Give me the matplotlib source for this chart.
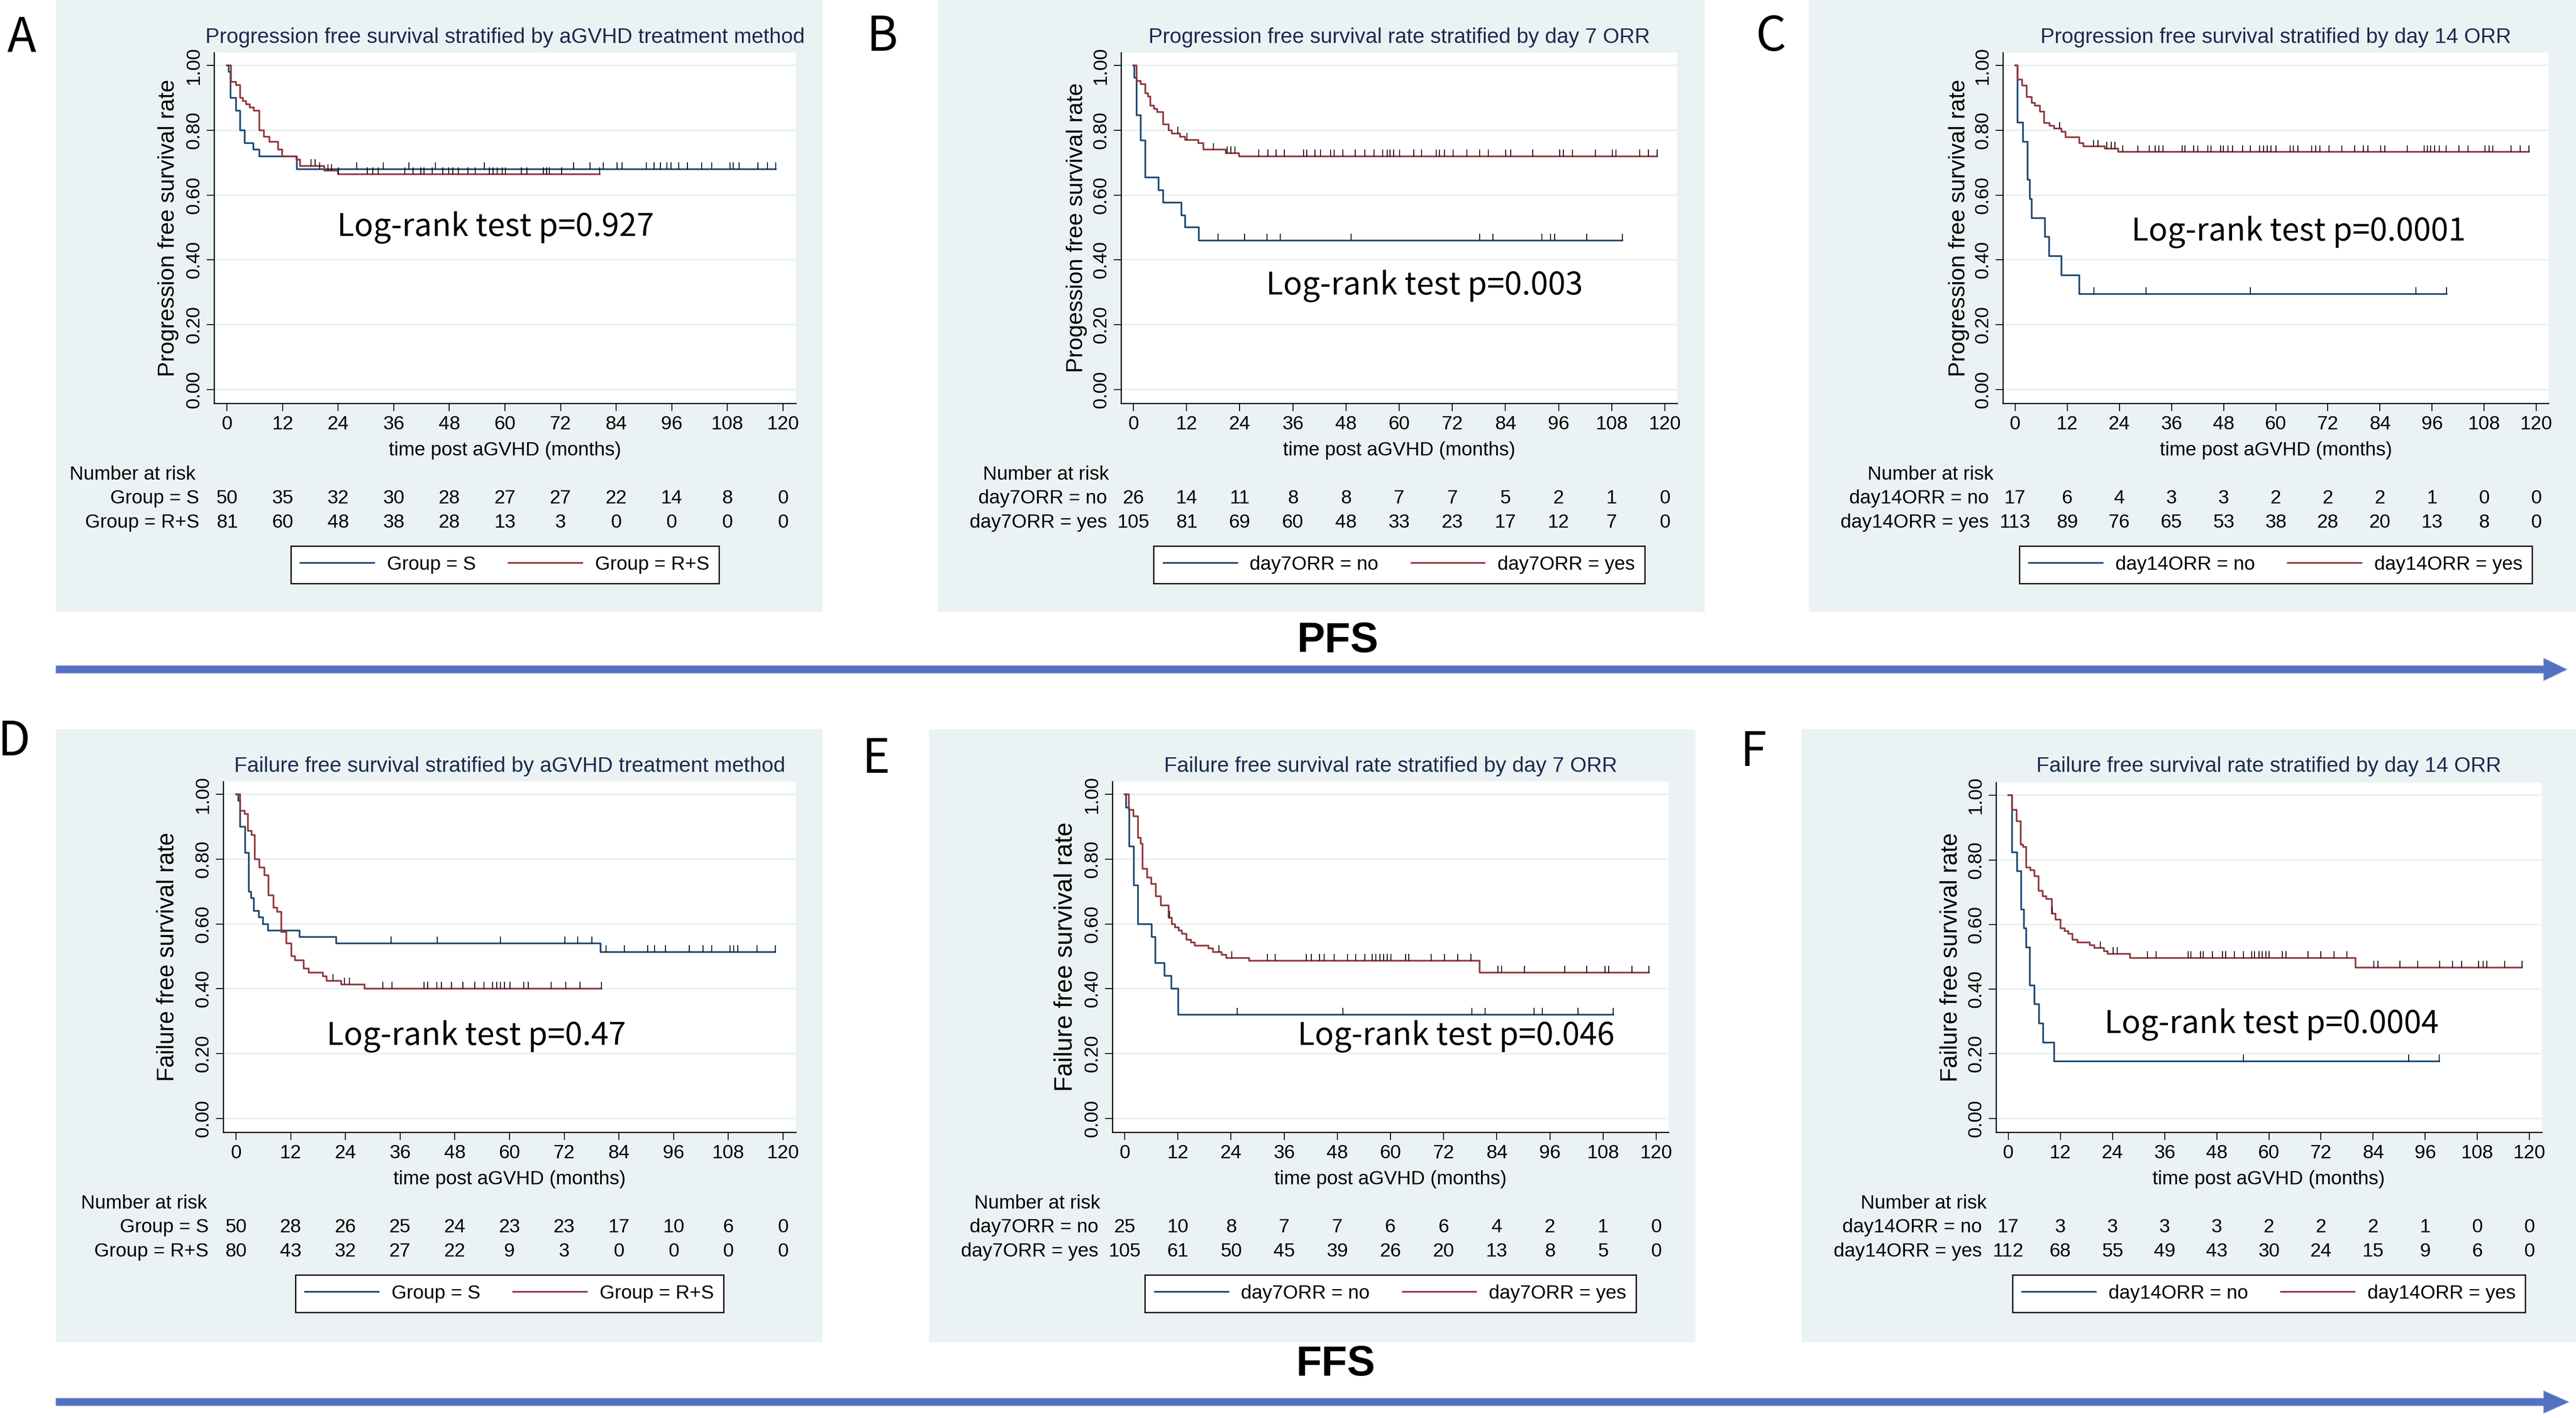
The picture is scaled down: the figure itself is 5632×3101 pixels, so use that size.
import numpy as np
import matplotlib
matplotlib.use('Agg')
import matplotlib.pyplot as plt
from matplotlib.patches import Rectangle, Polygon
from matplotlib import transforms

W, H = 5632, 3101
BG = '#eaf2f3'
GRID = '#eaf2f3'
NAVY = '#1a476f'
MAROON = '#90353b'
TITLE_C = '#1c2a50'

plt.rcParams['font.family'] = ['Liberation Sans', 'DejaVu Sans']

months = [0, 12, 24, 36, 48, 60, 72, 84, 96, 108, 120]
yticks = [0.0, 0.2, 0.4, 0.6, 0.8, 1.0]

# ---- A: PFS by treatment method
a_s_t = [0, 0.35, 0.8, 1.9, 2.8, 3.8, 5.7, 7.0, 15.1]
a_s_v = [1.00, 0.98, 0.90, 0.86, 0.80, 0.76, 0.74, 0.72, 0.68]
a_s_end = 118.5
a_s_cens = [20.0, 28.0, 33.7, 39.3, 45.0, 55.6, 74.8, 78.4, 81.2, 84.2, 85.3, 90.5, 92.2,
            93.6, 95.0, 95.8, 97.5, 99.4, 102.5, 104.6, 108.6, 109.3, 110.6, 114.6, 116.7, 118.5]
a_r_t = [0, 0.9, 1.9, 2.8, 3.4, 4.1, 4.9, 5.8, 7.0, 8.0, 9.1, 11.0, 11.9, 15.0, 15.8, 21.0, 24.0]
a_r_v = [1.00, 0.95, 0.94, 0.90, 0.89, 0.88, 0.87, 0.86, 0.80, 0.78, 0.765, 0.74, 0.72,
         0.71, 0.69, 0.675, 0.665]
a_r_end = 80.4
a_r_cens = [18.1, 19.0, 21.8, 22.6, 24.1, 30.3, 31.5, 32.6, 38.4, 40.2, 41.8, 42.5, 44.3,
            46.6, 47.9, 48.7, 49.9, 52.0, 53.6, 56.6, 57.4, 58.3, 59.4, 60.1, 63.6, 64.7,
            68.3, 69.0, 69.6, 72.2, 80.4]
a_risk_s = [50, 35, 32, 30, 28, 27, 27, 22, 14, 8, 0]
a_risk_r = [81, 60, 48, 38, 28, 13, 3, 0, 0, 0, 0]

# ---- B: PFS by day 7 ORR
b_n_t = [0, 0.2, 0.7, 1.6, 2.7, 5.7, 6.7, 10.8, 11.7, 14.8]
b_n_v = [1.00, 0.962, 0.846, 0.769, 0.654, 0.615, 0.577, 0.538, 0.50, 0.46]
b_n_end = 110.4
b_n_cens = [19.1, 25.1, 30.1, 33.1, 49.2, 78.2, 81.2, 92.2, 94.2, 95.1, 102.3, 110.4]
b_y_t = [0, 0.7, 1.6, 2.7, 3.3, 3.8, 4.6, 5.4, 6.7, 7.9, 8.7, 10.5, 11.7, 14.7, 15.8, 20.9, 23.9]
b_y_v = [1.00, 0.952, 0.943, 0.914, 0.905, 0.876, 0.867, 0.857, 0.819, 0.80, 0.79, 0.78,
         0.77, 0.76, 0.74, 0.73, 0.72]
b_y_end = 118.3
b_y_cens = [10.0, 12.1, 18.1, 21.2, 22.0, 22.9, 28.3, 30.4, 32.2, 34.1, 38.4, 39.1, 41.0,
            42.2, 44.5, 45.3, 47.3, 50.1, 52.3, 54.3, 56.3, 57.3, 57.9, 58.8, 60.1, 63.3,
            65.1, 68.4, 69.1, 70.2, 72.2, 75.3, 78.2, 80.1, 84.1, 85.2, 90.2, 96.3, 97.1,
            99.1, 104.3, 108.1, 109.0, 114.3, 116.3, 118.3]
b_risk_n = [26, 14, 11, 8, 8, 7, 7, 5, 2, 1, 0]
b_risk_y = [105, 81, 69, 60, 48, 33, 23, 17, 12, 7, 0]

# ---- C: PFS by day 14 ORR
c_n_t = [0, 0.6, 1.8, 2.9, 3.4, 3.8, 6.9, 7.8, 10.7, 14.8]
c_n_v = [1.00, 0.824, 0.765, 0.647, 0.588, 0.529, 0.471, 0.412, 0.353, 0.294]
c_n_end = 99.3
c_n_cens = [18.1, 30.2, 54.2, 92.3, 99.3]
c_y_t = [0, 0.6, 1.6, 2.7, 3.8, 4.6, 5.7, 6.7, 7.9, 9.0, 10.7, 11.6, 14.8, 15.7, 20.7, 23.7]
c_y_v = [1.00, 0.956, 0.938, 0.903, 0.885, 0.876, 0.858, 0.823, 0.814, 0.805, 0.796,
         0.779, 0.76, 0.75, 0.743, 0.733]
c_y_end = 118.3
c_y_cens = [10.3, 18.0, 19.1, 21.1, 22.1, 23.0, 24.8, 28.3, 30.9, 32.3, 33.1, 34.0, 38.5,
            39.1, 41.1, 42.0, 44.4, 45.1, 47.3, 47.9, 49.0, 50.1, 52.4, 54.2, 56.3, 57.2,
            58.0, 58.9, 60.1, 63.3, 64.1, 65.1, 68.3, 69.2, 70.2, 72.3, 75.2, 78.2, 80.2,
            81.2, 84.2, 85.1, 90.3, 94.2, 94.9, 95.6, 96.6, 97.6, 99.2, 102.2, 104.3, 108.2,
            109.1, 110.0, 114.2, 116.3, 118.3]
c_risk_n = [17, 6, 4, 3, 3, 2, 2, 2, 1, 0, 0]
c_risk_y = [113, 89, 76, 65, 53, 38, 28, 20, 13, 8, 0]

# ---- D: FFS by treatment method
d_s_t = [0, 0.5, 0.9, 2.0, 2.8, 3.3, 3.9, 5.0, 5.9, 7.0, 14.0, 22.0, 80.0]
d_s_v = [1.00, 0.98, 0.90, 0.82, 0.70, 0.68, 0.64, 0.62, 0.60, 0.58, 0.56, 0.54, 0.513]
d_s_end = 118.3
d_s_cens = [34.0, 44.1, 58.0, 72.1, 74.9, 78.1, 81.2, 85.2, 90.3, 91.8, 94.2, 99.4, 102.4,
            104.3, 108.4, 109.2, 110.1, 114.3, 118.3]
d_r_t = [0, 0.9, 1.9, 2.6, 3.4, 4.1, 5.1, 6.2, 7.1, 8.2, 9.0, 9.9, 11.0, 12.1, 13.0, 14.9,
         16.0, 19.1, 19.9, 23.1, 28.2]
d_r_v = [1.00, 0.95, 0.94, 0.888, 0.875, 0.80, 0.775, 0.75, 0.688, 0.65, 0.638, 0.575,
         0.54, 0.50, 0.488, 0.463, 0.45, 0.438, 0.425, 0.413, 0.40]
d_r_end = 80.2
d_r_cens = [21.3, 23.8, 24.9, 32.2, 34.2, 41.2, 42.0, 44.0, 45.1, 47.3, 49.8, 52.4, 54.4,
            56.3, 57.2, 58.0, 58.9, 60.1, 63.1, 64.1, 69.1, 72.3, 75.4, 80.2]
d_risk_s = [50, 28, 26, 25, 24, 23, 23, 17, 10, 6, 0]
d_risk_r = [80, 43, 32, 27, 22, 9, 3, 0, 0, 0, 0]

# ---- E: FFS by day 7 ORR
e_n_t = [0, 0.35, 1.0, 2.1, 3.0, 6.1, 6.9, 9.0, 10.5, 12.1]
e_n_v = [1.00, 0.96, 0.84, 0.72, 0.60, 0.56, 0.48, 0.44, 0.40, 0.32]
e_n_end = 110.3
e_n_cens = [25.4, 49.3, 78.4, 81.4, 92.4, 94.3, 102.4, 110.3]
e_y_t = [0, 0.9, 2.0, 3.0, 3.6, 4.0, 5.1, 6.0, 7.0, 8.1, 9.9, 10.6, 11.4, 12.2, 12.9, 13.9,
         15.0, 15.8, 18.9, 19.9, 21.9, 22.9, 28.1, 80.1]
e_y_v = [1.00, 0.952, 0.933, 0.867, 0.848, 0.771, 0.743, 0.724, 0.686, 0.657, 0.619, 0.60,
         0.59, 0.58, 0.57, 0.552, 0.543, 0.533, 0.524, 0.514, 0.505, 0.495, 0.486, 0.45]
e_y_end = 118.4
e_y_cens = [10.1, 21.3, 24.2, 32.2, 34.0, 41.0, 42.1, 44.0, 45.0, 47.3, 50.3, 52.1, 54.2,
            55.9, 56.7, 57.6, 58.4, 59.3, 60.1, 63.4, 64.1, 69.2, 72.2, 75.2, 78.2, 84.3,
            85.1, 90.3, 99.4, 104.3, 108.4, 109.3, 114.5, 118.4]
e_risk_n = [25, 10, 8, 7, 7, 6, 6, 4, 2, 1, 0]
e_risk_y = [105, 61, 50, 45, 39, 26, 20, 13, 8, 5, 0]

# ---- F: FFS by day 14 ORR
f_n_t = [0, 0.9, 2.0, 3.0, 3.6, 4.2, 5.0, 6.0, 7.1, 8.0, 10.6]
f_n_v = [1.00, 0.824, 0.765, 0.647, 0.588, 0.529, 0.412, 0.353, 0.294, 0.235, 0.176]
f_n_end = 99.2
f_n_cens = [54.2, 92.2, 99.2]
f_y_t = [0, 0.9, 1.9, 2.9, 3.4, 4.2, 5.1, 6.0, 7.0, 7.9, 8.8, 10.0, 10.9, 12.0, 13.0, 13.8,
         14.8, 15.9, 18.8, 19.8, 22.0, 22.9, 28.0, 80.0]
f_y_v = [1.00, 0.955, 0.92, 0.848, 0.84, 0.777, 0.768, 0.75, 0.705, 0.688, 0.679, 0.634,
         0.616, 0.589, 0.58, 0.571, 0.553, 0.544, 0.536, 0.527, 0.518, 0.509, 0.496, 0.467]
f_y_end = 118.3
f_y_cens = [10.2, 21.2, 24.1, 25.1, 32.0, 34.1, 41.4, 42.1, 44.3, 44.9, 47.0, 49.3, 50.1,
            52.0, 54.2, 56.0, 56.7, 57.7, 58.5, 59.3, 60.1, 63.1, 64.0, 69.0, 72.0, 75.0,
            78.0, 84.2, 85.1, 90.2, 94.3, 99.3, 102.3, 104.4, 108.3, 109.3, 110.2, 114.3,
            118.3]
f_risk_n = [17, 3, 3, 3, 3, 2, 2, 2, 1, 0, 0]
f_risk_y = [112, 68, 55, 49, 43, 30, 24, 15, 9, 6, 0]

grp_labels = ['Group = S', 'Group = R+S']
d7_labels = ['day7ORR = no', 'day7ORR = yes']
d14_labels = ['day14ORR = no', 'day14ORR = yes']

panels = [
    dict(letter='A', title='Progression free survival stratified by aGVHD treatment method',
         ylabel='Progression free survival rate', labels=grp_labels,
         c1=(a_s_t, a_s_v, a_s_end, a_s_cens), c2=(a_r_t, a_r_v, a_r_end, a_r_cens),
         risk=(a_risk_s, a_risk_r), p='Log-rank test p=0.927',
         bg=(122, 0, 1799, 1338), ax=(468, 115, 1740, 882), dy=0,
         ylab_x=368, ylab_fs=36, lr=(737, 497), let=(47, 83)),
    dict(letter='B', title='Progression free survival rate stratified by day 7 ORR',
         ylabel='Progession free survival rate', labels=d7_labels,
         c1=(b_n_t, b_n_v, b_n_end, b_n_cens), c2=(b_y_t, b_y_v, b_y_end, b_y_cens),
         risk=(b_risk_n, b_risk_y), p='Log-rank test p=0.003',
         bg=(2051, 0, 3727, 1338), ax=(2451, 115, 3667, 882), dy=0,
         ylab_x=2354, ylab_fs=36, lr=(2768, 625), let=(1929, 81)),
    dict(letter='C', title='Progression free survival stratified by day 14 ORR',
         ylabel='Progression free survival rate', labels=d14_labels,
         c1=(c_n_t, c_n_v, c_n_end, c_n_cens), c2=(c_y_t, c_y_v, c_y_end, c_y_cens),
         risk=(c_risk_n, c_risk_y), p='Log-rank test p=0.0001',
         bg=(3955, 0, 5632, 1338), ax=(4379, 115, 5572, 882), dy=0,
         ylab_x=4283, ylab_fs=36, lr=(4660, 507), let=(3872, 81)),
    dict(letter='D', title='Failure free survival stratified by aGVHD treatment method',
         ylabel='Failure free survival rate', labels=grp_labels,
         c1=(d_s_t, d_s_v, d_s_end, d_s_cens), c2=(d_r_t, d_r_v, d_r_end, d_r_cens),
         risk=(d_risk_s, d_risk_r), p='Log-rank test p=0.47',
         bg=(122, 1595, 1798, 2935), ax=(488, 1709, 1740, 2476), dy=1594,
         ylab_x=366, ylab_fs=36.5, lr=(714, 2266), let=(30, 1622)),
    dict(letter='E', title='Failure free survival rate stratified by day 7 ORR',
         ylabel='Failure free survival rate', labels=d7_labels,
         c1=(e_n_t, e_n_v, e_n_end, e_n_cens), c2=(e_y_t, e_y_v, e_y_end, e_y_cens),
         risk=(e_risk_n, e_risk_y), p='Log-rank test p=0.046',
         bg=(2031, 1595, 3707, 2935), ax=(2432, 1709, 3648, 2476), dy=1594,
         ylab_x=2329, ylab_fs=39.5, lr=(2837, 2266), let=(1915, 1660)),
    dict(letter='F', title='Failure free survival rate stratified by day 14 ORR',
         ylabel='Failure free survival rate', labels=d14_labels,
         c1=(f_n_t, f_n_v, f_n_end, f_n_cens), c2=(f_y_t, f_y_v, f_y_end, f_y_cens),
         risk=(f_risk_n, f_risk_y), p='Log-rank test p=0.0004',
         bg=(3939, 1595, 5632, 2935), ax=(4364, 1711, 5557, 2476), dy=1594,
         ylab_x=4265, ylab_fs=36.5, lr=(4601, 2240), let=(3833, 1645)),
]

FS = 30.5
CJK = ['Noto Sans CJK SC', 'DejaVu Sans']


def km(ax, curve, color, label):
    t, v, end, cens = curve
    tt = list(t) + [end]
    vv = list(v) + [v[-1]]
    line, = ax.step(tt, vv, where='post', color=color, lw=2.6, zorder=3, label=label)
    idx = np.searchsorted(t, cens, side='right') - 1
    yc = np.array(v)[idx]
    ax.vlines(cens, yc, yc + 0.021, color='black', lw=1.4, zorder=4)
    return line


def draw_panel(fig, canvas, p):
    bx0, by0, bx1, by1 = p['bg']
    canvas.add_patch(Rectangle((bx0, by0), bx1 - bx0, by1 - by0, facecolor=BG,
                               edgecolor='none', zorder=0))
    x0, y0, x1, y1 = p['ax']
    ax = fig.add_axes([x0 / W, 1 - y1 / H, (x1 - x0) / W, (y1 - y0) / H])
    ax.set_zorder(2)
    ax.set_facecolor('white')

    l1 = km(ax, p['c1'], NAVY, p['labels'][0])
    l2 = km(ax, p['c2'], MAROON, p['labels'][1])

    ax.set_xlim(-2.8, 122.8)
    ax.set_ylim(-0.043, 1.040)
    ax.set_xticks(months)
    ax.set_yticks(yticks)
    ax.set_yticklabels(['%.2f' % y for y in yticks])
    ax.yaxis.grid(True, color=GRID, lw=3)
    ax.set_axisbelow(True)
    for s in ['top', 'right']:
        ax.spines[s].set_visible(False)
    for s in ['left', 'bottom']:
        ax.spines[s].set_linewidth(1.8)
    ax.tick_params(axis='x', length=12, width=1.5, labelsize=FS, pad=6.5)
    ax.tick_params(axis='y', length=11.5, width=1.5, labelsize=FS, pad=5.8)
    for lbl in ax.get_yticklabels():
        lbl.set_rotation(90)
        lbl.set_va('center')

    cx = (x0 + x1) / 2
    dy = p['dy']
    canvas.text(cx, 82 + dy, p['title'], fontsize=33.4, color=TITLE_C,
                ha='center', va='center')
    canvas.text(cx, 985 + dy, 'time post aGVHD (months)', fontsize=FS,
                ha='center', va='center')
    canvas.text(p['ylab_x'], (y0 + y1) / 2, p['ylabel'], fontsize=p['ylab_fs'],
                rotation=90, ha='center', va='center')

    # number at risk table
    trans = transforms.blended_transform_factory(ax.transData, canvas.transData)
    canvas.text(-34, 1038 + dy, 'Number at risk', fontsize=FS, ha='left', va='center',
                transform=trans)
    for row, (lab, vals) in enumerate(zip(p['labels'], p['risk'])):
        yy = 1090 + dy + row * 53
        canvas.text(-6.0, yy, lab, fontsize=FS, ha='right', va='center', transform=trans)
        for m, n in zip(months, vals):
            canvas.text(m, yy, str(n), fontsize=FS, ha='center', va='center',
                        transform=trans)

    leg = ax.legend([l1, l2], p['labels'], ncol=2, loc='center',
                    bbox_to_anchor=(cx, 1235 + dy), bbox_transform=canvas.transData,
                    frameon=True, fancybox=False, framealpha=1, edgecolor='black',
                    fontsize=FS, handlelength=3.8, handletextpad=0.65,
                    columnspacing=1.7, borderpad=0.5)
    leg.get_frame().set_linewidth(2)

    # log-rank note sits inside the plot area, so draw it on the panel axes
    lx, ly = p['lr']
    ax.text(lx, ly, p['p'], fontsize=49.5, family=CJK, ha='left', va='center',
            transform=canvas.transData, zorder=5)
    ax_letter = p['let']
    canvas.text(ax_letter[0], ax_letter[1], p['letter'], fontsize=75, family=CJK,
                weight='light', ha='center', va='center')


def draw_arrow(canvas, yc, tip):
    pts = [(122, yc - 8.5), (5561, yc - 8.5), (5561, yc - 25), (tip, yc),
           (5561, yc + 25), (5561, yc + 8.5), (122, yc + 8.5)]
    canvas.add_patch(Polygon(pts, closed=True, facecolor='#5470c0',
                             edgecolor='#a9bbe6', lw=1.0))


if __name__ == '__main__':
    fig = plt.figure(figsize=(W / 100, H / 100), dpi=100)
    canvas = fig.add_axes([0, 0, 1, 1])
    canvas.set_xlim(0, W)
    canvas.set_ylim(H, 0)
    canvas.axis('off')

    for p in panels:
        draw_panel(fig, canvas, p)

    draw_arrow(canvas, 1464, 5613)
    draw_arrow(canvas, 3066, 5617)
    canvas.text(2925, 1402, 'PFS', fontsize=66, weight='bold', ha='center', va='center')
    canvas.text(2921, 2984, 'FFS', fontsize=66, weight='bold', ha='center', va='center')

    fig.savefig('out.png', dpi=100, facecolor='white')
